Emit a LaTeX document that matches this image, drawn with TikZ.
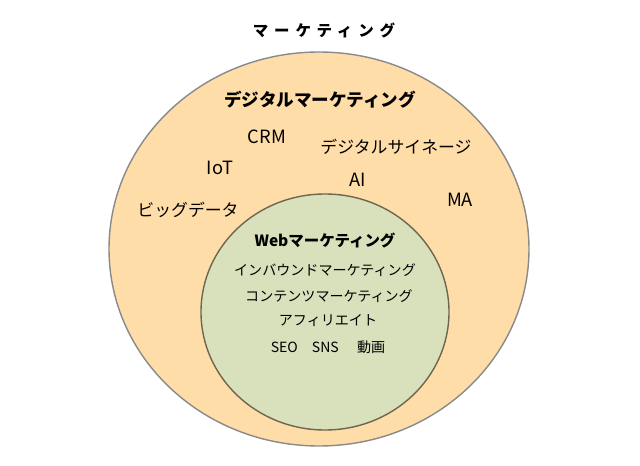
\documentclass[tikz,border=0pt]{standalone}
\usepackage{fontspec}
\setmainfont{Noto Sans CJK JP}
\definecolor{peach}{HTML}{FFDDA8}
\definecolor{sage}{HTML}{D9E0BC}
\definecolor{rimgray}{HTML}{8A8A8A}
\definecolor{rimolive}{HTML}{6F6650}
\tikzset{
    outerset/.style={fill=peach, draw=rimgray, line width=1pt},
    innerset/.style={fill=sage, draw=rimolive, line width=1pt},
    title/.style={font=\bfseries\fontsize{11}{13}\selectfont\addfontfeature{LetterSpace=38}},
    heading/.style={font=\bfseries\fontsize{12.5}{14}\selectfont},
    subheading/.style={font=\bfseries\fontsize{11}{13}\selectfont},
    term/.style={font=\fontsize{12}{14}\selectfont},
    latin/.style={font=\fontsize{13}{15}\selectfont},
    item/.style={font=\fontsize{10}{12}\selectfont}
}
\begin{document}
\begin{tikzpicture}[x=0.025cm, y=-0.025cm]
    \useasboundingbox (0,0) rectangle (640,466);
    \node[title] (mkt) at (324,30) {マーケティング};
    % デジタルマーケティング（外側）
    \draw[outerset] (319,249) ellipse [x radius=210, y radius=197];
    \node[heading] (digital) at (320,100) {デジタルマーケティング};
    \node[latin] (crm) at (267,137) {CRM};
    \node[term] (signage) at (396,147) {デジタルサイネージ};
    \node[latin] (iot) at (220,168) {IoT};
    \node[latin] (ai) at (358,180) {AI};
    \node[latin] (ma) at (460,200) {MA};
    \node[term] (bigdata) at (188,210) {ビッグデータ};
    % Webマーケティング（内側）
    \draw[innerset] (325,312) ellipse [x radius=124, y radius=118];
    \node[subheading] (web) at (325,240) {Webマーケティング};
    \node[item] (inbound) at (325,270) {インバウンドマーケティング};
    \node[item] (content) at (329,296) {コンテンツマーケティング};
    \node[item] (affiliate) at (328,321) {アフィリエイト};
    \node[item] (seo) at (328,347) {SEO\hspace{1em}SNS\hspace{1.3em}動画};
\end{tikzpicture}
\end{document}
